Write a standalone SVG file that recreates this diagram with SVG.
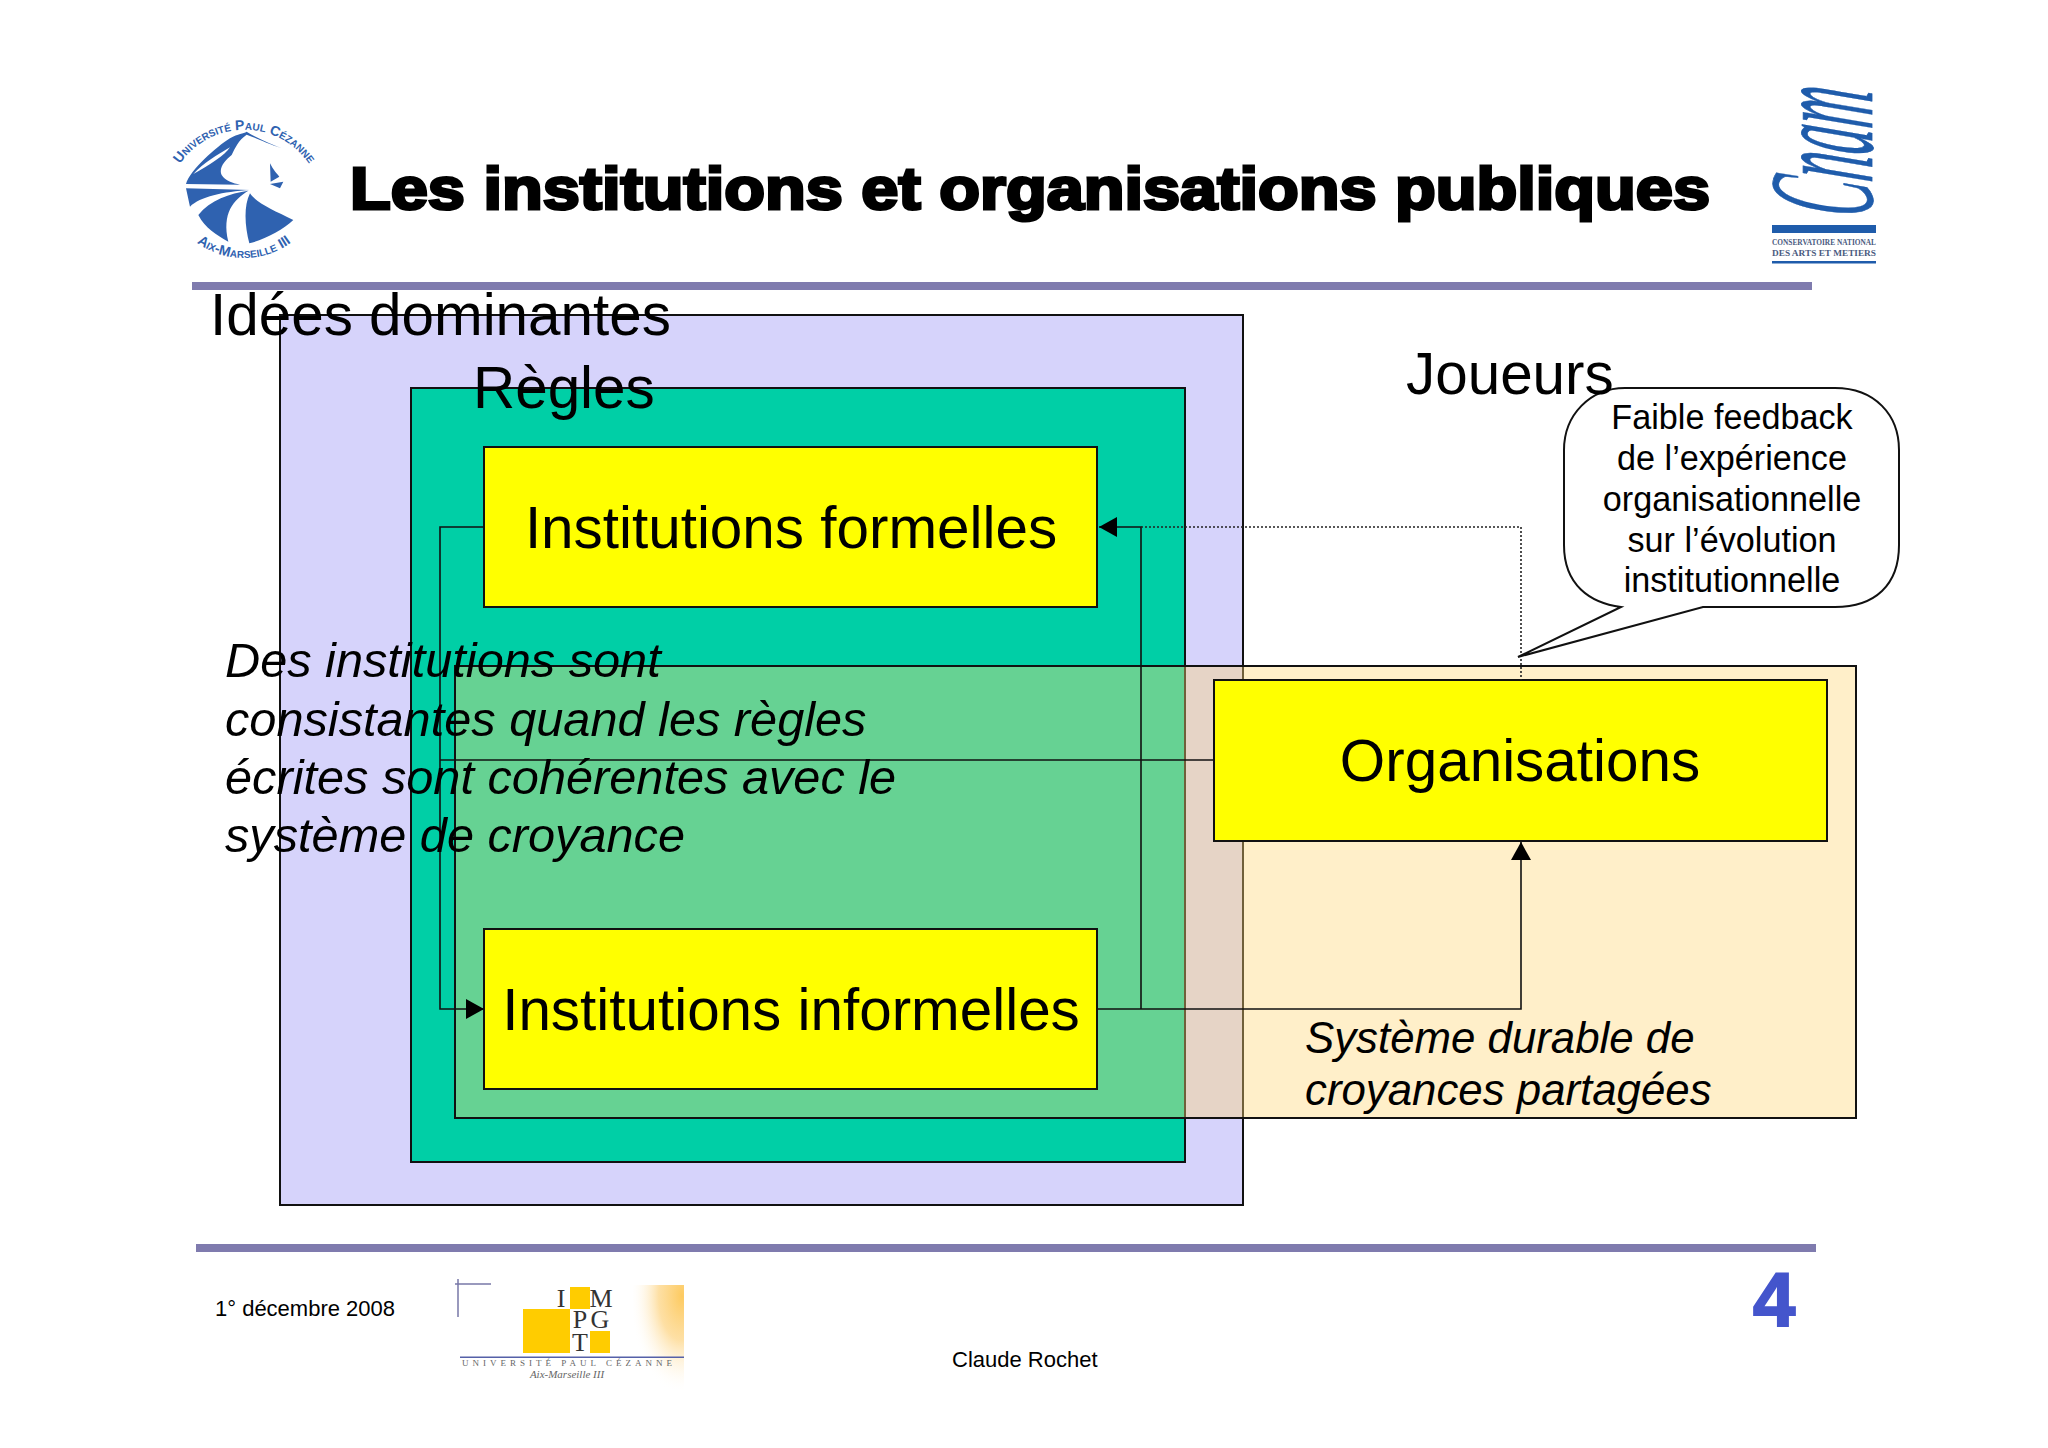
<svg xmlns="http://www.w3.org/2000/svg" width="2048" height="1448" viewBox="0 0 2048 1448">
<style>
text{font-family:"Liberation Sans",Arial,sans-serif;fill:#000}
.box{stroke:#111;stroke-width:2}
.y{fill:#ffff00}
.big{font-size:58.400px;text-anchor:middle}
.lab{font-size:58.400px}
.it{font-size:48.700px;font-style:italic}
.it2{font-size:43.800px;font-style:italic}
.call{font-size:34.200px;text-anchor:middle}
.foot{font-size:22px}
.rule{fill:#7f7bae}
.c{fill:none;stroke:#111;stroke-width:1.6}
.d{fill:none;stroke:#222;stroke-width:1.6;stroke-dasharray:2 2}
.blue{fill:#2f62b0}
.lg{font-family:"Liberation Sans",sans-serif;fill:#2f62b0;font-size:14px;font-variant:small-caps;font-weight:bold}
.se{font-family:"Liberation Serif",serif;fill:#333}
.sm{font-family:"Liberation Serif",serif;fill:#666}
.cn{font-family:"Liberation Serif",serif;fill:#4a5a80;font-weight:bold}
</style>
<defs>
<marker id="ah" markerWidth="18" markerHeight="20" refX="18" refY="10" orient="auto" markerUnits="userSpaceOnUse"><path d="M0,0 L18,10 L0,20 Z" fill="#000"/></marker>
<radialGradient id="glow" gradientUnits="userSpaceOnUse" cx="0" cy="0" r="1" gradientTransform="translate(682 1296) scale(52 98)"><stop offset="0" stop-color="#fdca60"/><stop offset=".45" stop-color="#fdd586" stop-opacity=".75"/><stop offset="1" stop-color="#fff" stop-opacity="0"/></radialGradient>
<path id="arcT" d="M178,167 A78,78 0 0 1 311,167"/>
<path id="arcB" d="M190,237 A80,80 0 0 0 298,237"/>
</defs>
<rect width="2048" height="1448" fill="#fff"/>

<g id="logo-aix">
<g transform="translate(150 60) scale(.3333)">
<path class="blue" d="M108,372 C120,330 200,260 240,235 C265,220 280,222 290,215 C320,235 360,250 395,265 C350,250 320,235 290,224 C265,240 255,265 245,285 C225,300 205,325 215,345 C225,362 250,370 270,374 Z"/>
<path fill="#fff" d="M130,342 C160,310 200,285 240,262 C225,285 180,315 130,342 Z"/>
<path class="blue" d="M360,310 L362,365 L388,350 C380,340 370,330 360,310 Z M360,372 L400,365 L390,385 Z"/>
<path class="blue" d="M108,385 L300,390 C220,395 150,410 120,440 Z"/>
<path class="blue" d="M145,465 C180,420 240,400 295,392 C250,420 215,460 235,545 C200,525 165,505 145,465 Z"/>
<path class="blue" d="M300,400 C280,440 285,500 298,550 C340,540 400,510 430,480 C370,450 320,430 300,400 Z"/>
</g>
<text class="lg"><textPath href="#arcT" startOffset="50%" text-anchor="middle">Université Paul Cézanne</textPath></text>
<text class="lg"><textPath href="#arcB" startOffset="50%" text-anchor="middle">Aix-Marseille III</textPath></text>
</g>

<g id="logo-cnam">
<text transform="translate(1872 219) rotate(-90) skewX(-6)" font-size="150" textLength="128" lengthAdjust="spacingAndGlyphs" stroke="#1f5cab" stroke-width=".8" style="font-family:'Liberation Serif',serif;font-style:italic;fill:#1f5cab">Cnam</text>
<rect x="1772" y="225" width="104" height="8" fill="#1f5cab"/>
<rect x="1772" y="261" width="104" height="2.500" fill="#1f5cab"/>
<text class="cn" x="1772" y="245" font-size="9" textLength="104" lengthAdjust="spacingAndGlyphs">CONSERVATOIRE NATIONAL</text>
<text class="cn" x="1772" y="256" font-size="9" textLength="104" lengthAdjust="spacingAndGlyphs">DES ARTS ET METIERS</text>
</g>

<text id="title" x="350" y="209" font-size="60" font-weight="bold" stroke="#000" stroke-width="3" textLength="1360" lengthAdjust="spacingAndGlyphs">Les institutions et organisations publiques</text>
<rect class="rule" x="192" y="282" width="1620" height="8"/>
<rect class="rule" x="196" y="1244" width="1620" height="8"/>

<g id="idees"><rect class="box" x="280" y="315" width="963" height="890" fill="#d6d3fb"/></g>
<g id="regles"><rect class="box" x="411" y="388" width="774" height="774" fill="#00cfa6"/></g>
<g id="systeme"><rect class="box" x="455" y="666" width="1401" height="452" fill="#ffd778" fill-opacity=".4"/></g>
<g id="inst-formelles"><rect class="box y" x="484" y="447" width="613" height="160"/><text class="big" x="791" y="548">Institutions formelles</text></g>
<g id="inst-informelles"><rect class="box y" x="484" y="929" width="613" height="160"/><text class="big" x="791" y="1030">Institutions informelles</text></g>
<g id="organisations"><rect class="box y" x="1214" y="680" width="613" height="161"/><text class="big" x="1520" y="781">Organisations</text></g>

<g id="connectors">
<path class="c" d="M484,527 H440 V1009 H484" marker-end="url(#ah)"/>
<path class="c" d="M440,760 H1214"/>
<path class="c" d="M1097,1009 H1521 V842" marker-end="url(#ah)"/>
<path class="c" d="M1141,1009 V527 H1099" marker-end="url(#ah)"/>
<path class="d" d="M1141,527 H1521 V680"/>
</g>

<g id="callout">
<path d="M1625,388 H1835 C1875,388 1899,415 1899,450 V545 C1899,585 1875,607 1835,607 H1703 L1518,657 L1621,607 C1590,603 1564,585 1564,545 V450 C1564,415 1590,388 1625,388 Z" fill="#fff" stroke="#111" stroke-width="2"/>
<text class="call" x="1732" y="429">Faible feedback</text>
<text class="call" x="1732" y="470">de l’expérience</text>
<text class="call" x="1732" y="511">organisationnelle</text>
<text class="call" x="1732" y="552">sur l’évolution</text>
<text class="call" x="1732" y="592">institutionnelle</text>
</g>

<text class="lab" x="210" y="335">Idées dominantes</text>
<text class="lab" x="473" y="408">Règles</text>
<text class="lab" x="1406" y="394">Joueurs</text>
<text class="it" x="225" y="677">Des institutions sont</text>
<text class="it" x="225" y="736">consistantes quand les règles</text>
<text class="it" x="225" y="794">écrites sont cohérentes avec le</text>
<text class="it" x="225" y="852">système de croyance</text>
<text class="it2" x="1305" y="1053">Système durable de</text>
<text class="it2" x="1305" y="1105">croyances partagées</text>

<text class="foot" x="215" y="1316">1° décembre 2008</text>
<text class="foot" x="952" y="1367">Claude Rochet</text>
<text x="1753" y="1326" font-size="76" font-weight="bold" stroke="#4455cc" stroke-width="2" style="fill:#4455cc">4</text>

<g id="logo-impgt">
<rect x="633" y="1285" width="51" height="105" fill="url(#glow)"/>
<path d="M458,1279 V1317 M455,1284 H491" fill="none" stroke="#7878a8" stroke-width="1.500"/>
<rect x="570" y="1287" width="20" height="22" fill="#ffcc00"/>
<rect x="523" y="1309" width="47" height="44" fill="#ffcc00"/>
<rect x="590" y="1331" width="20" height="22" fill="#ffcc00"/>
<g font-size="26" text-anchor="middle">
<text class="se" x="561" y="1307">I</text><text class="se" x="601" y="1307">M</text>
<text class="se" x="580" y="1328">P</text><text class="se" x="600" y="1328">G</text>
<text class="se" x="580" y="1351">T</text>
</g>
<rect x="460" y="1356.500" width="224" height="1.500" fill="#5560a8"/>
<text class="sm" x="462" y="1366" font-size="9" textLength="210">UNIVERSITÉ PAUL CÉZANNE</text>
<text class="sm" x="567" y="1378" font-size="11" font-style="italic" text-anchor="middle">Aix-Marseille III</text>
</g>
</svg>
